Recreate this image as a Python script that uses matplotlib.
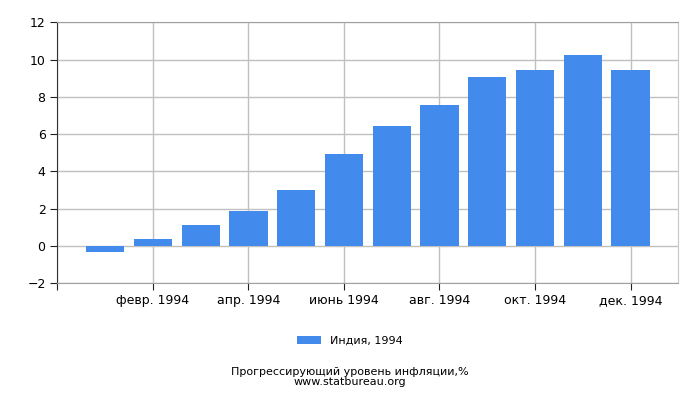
import matplotlib
matplotlib.use("Agg")
import matplotlib.pyplot as plt

# DATA ########################################################################

months = ["янв. 1994", "февр. 1994", "март 1994", "апр. 1994", "май 1994", "июнь 1994",
          "июль 1994", "авг. 1994", "сент. 1994", "окт. 1994", "нояб. 1994", "дек. 1994"]
values = [-0.34, 0.39, 1.14, 1.89, 3.02, 4.94, 6.44, 7.57, 9.07, 9.45, 10.25, 9.45]
series_name = "Индия, 1994"
caption = "Прогрессирующий уровень инфляции,%\nwww.statbureau.org"

# PLOT ########################################################################

fig = plt.figure(figsize=(7, 4), dpi=100)
ax = fig.add_axes([0.082, 0.292, 0.887, 0.652])

x = list(range(len(months)))
ax.bar(x, values, width=0.8, color="#428bed", label=series_name, zorder=3)

ax.set_xlim(-1, 12)
ax.set_ylim(-2, 12)
ax.set_yticks(range(-2, 13, 2))
ax.set_xticks([-1] + x[1::2])
ax.set_xticklabels([""] + months[1::2])

ax.grid(True, color="#c0c0c0", linewidth=1, zorder=0)
for side in ["top", "right", "bottom"]:
    ax.spines[side].set_color("#a0a0a0")
ax.spines["right"].set_color("#c8c8c8")
ax.spines["left"].set_color("#333333")
ax.tick_params(axis="both", labelsize=9, length=5, color="#222222")
ax.tick_params(axis="x", pad=3)

fig.legend(loc="center", bbox_to_anchor=(0.5, 0.148), frameon=False,
           fontsize=8, handlelength=2.2, handleheight=0.8)
fig.text(0.5, 0.058, caption, ha="center", va="center", fontsize=8, linespacing=0.95)

plt.savefig("out.png", dpi=100)
